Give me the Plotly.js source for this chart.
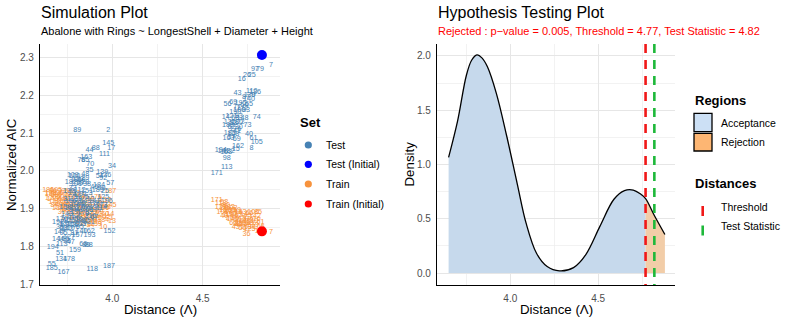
<!DOCTYPE html>
<html><head><meta charset="utf-8">
<script src="https://cdn.plot.ly/plotly-3.0.1.min.js"></script>
<style>html,body{margin:0;padding:0;background:#fff}#chart{width:793px;height:327px}</style>
</head><body><div id="chart"></div>
<script>
// ---------- Simulation plot data ----------
const testX = [
 3.806,3.978,3.978,3.994,3.874,3.909,3.957,3.856,3.829,3.850,3.878,3.998,3.874,3.850,3.782,3.944,3.961,3.989,3.926,3.930,3.950,3.940,
 3.790,3.800,3.810,3.830,3.840,3.770,3.820,3.860,3.800,3.850,3.900,3.920,3.960,
 3.76,3.78,3.80,3.82,3.84,3.86,3.88,3.90,3.92,3.94,3.96,3.75,3.77,3.79,3.81,3.83,3.85,3.87,3.89,3.91,3.93,3.74,3.76,3.78,3.80,3.82,3.84,3.86,3.88,3.90,3.75,3.77,3.79,3.81,3.83,3.85,3.87,3.79,3.83,3.87,3.80,3.84,3.82,3.86,3.78,3.88,3.95,3.97,
 3.70,3.72,3.74,3.76,3.78,3.71,3.73,3.75,3.77,3.72,3.74,3.76,3.80,3.82,3.71,3.73,
 3.985,3.670,3.711,3.717,3.761,3.794,3.665,3.665,3.730,3.889,3.982,3.807,3.874,3.856,3.870,3.840,3.822,3.750,3.770,3.730,3.760,3.790,3.720,3.700,3.870,3.830,
 4.807,4.878,4.818,4.789,4.745,4.772,4.717,4.693,4.772,4.790,4.637,4.670,4.757,4.757,4.702,4.690,4.680,4.800,4.628,4.748,4.643,4.689,4.757,4.781,4.800,4.696,4.683,4.770,4.600,4.615,4.630,4.645,4.633,4.633,4.578,4.760,4.740,4.780,
 4.66,4.68,4.70,4.72,4.65,4.67,4.69,4.71,4.66,4.68,4.70,4.65,4.67,4.69,4.72,4.74,4.73,4.71,4.66,4.64
];
const testY = [
 2.107,2.107,2.073,2.060,2.054,2.061,2.043,2.037,2.029,2.029,2.018,2.012,2.003,1.992,1.989,1.997,1.989,1.968,1.963,1.985,1.980,1.955,
 1.985,1.975,1.978,1.975,1.970,1.970,1.968,1.965,1.965,1.980,1.958,1.948,1.945,
 1.945,1.940,1.935,1.930,1.938,1.930,1.925,1.920,1.915,1.910,1.905,1.925,1.920,1.915,1.910,1.915,1.905,1.910,1.900,1.895,1.900,1.905,1.900,1.895,1.890,1.895,1.888,1.885,1.880,1.878,1.885,1.880,1.875,1.872,1.870,1.868,1.865,1.905,1.900,1.895,1.925,1.920,1.950,1.945,1.955,1.940,1.930,1.920,
 1.865,1.860,1.858,1.855,1.860,1.852,1.848,1.845,1.848,1.872,1.870,1.868,1.855,1.850,1.838,1.835,
 1.841,1.797,1.781,1.767,1.766,1.791,1.754,1.743,1.731,1.741,1.748,1.829,1.831,1.804,1.804,1.806,1.860,1.815,1.810,1.820,1.825,1.835,1.805,1.820,1.840,1.840,
 2.303,2.281,2.270,2.268,2.253,2.253,2.244,2.206,2.211,2.208,2.176,2.182,2.189,2.176,2.162,2.168,2.155,2.142,2.142,2.120,2.086,2.083,2.096,2.087,2.075,2.066,2.057,2.061,2.054,2.052,2.050,2.053,2.033,2.009,1.994,2.200,2.195,2.200,
 2.145,2.140,2.145,2.140,2.130,2.125,2.130,2.128,2.115,2.110,2.115,2.100,2.098,2.105,2.165,2.160,2.175,2.180,2.090,2.120
];
const testLabel = [
 '89','2','145','17','44','88','111','163','78','65','70','34','35','48','109','139','136','57','184','54','92','99',
 '100','181','123','60','128','182','19','38','101','29','46','189','25',
 '133','23','42','117','91','6','12','141','80','173','4','31','166','75','149','86','52','120','63','177','11','158','27','94','132','49','175','9','116','67','143','21','105','58','191','82','131','13','170','96','138','64','112','151','33','3','125','196',
 '192','5','122','84','156','39','68','142','10','176','71','126','32','65','147','95',
 '152','194','51','134','178','159','55','185','167','118','187','157','193','89','88','66','155','36','47','165','127','81','113','144','162','140',
 '1','7','79','97','26','25','16','43','110','136','56','69','140','65','100','77','190','74','14','73','163','59','40','61','105','162','15','8','194','141','153','182','98','113','171','130','87','9',
 '121','68','93','148','135','53','180','22','62','176','30','183','108','41','172','83','50','195','37','188'
];
const trainX = [
 3.645,3.670,3.690,3.660,3.680,3.700,3.720,3.740,3.650,3.670,3.690,3.710,3.730,3.750,3.680,3.700,3.720,3.740,3.760,3.780,
 3.710,3.730,3.750,3.770,3.790,3.810,3.740,3.760,3.780,3.800,3.820,3.840,3.770,3.790,3.810,3.830,3.850,3.870,
 3.800,3.820,3.840,3.860,3.880,3.900,3.830,3.850,3.870,3.890,3.910,3.930,3.860,3.880,3.900,3.920,3.940,3.960,
 3.920,3.950,3.970,3.989,3.998,3.995,3.950,3.970,3.990,3.978,3.989,3.940,3.920,3.960,3.930,3.900,3.860,3.830,3.800,3.770,
 3.760,3.790,3.820,3.850,3.880,3.910,3.710,3.660,3.750,3.790,3.820,3.750,3.720,3.700,3.680,3.850,3.880,3.910,3.950,
 4.578,4.600,4.620,4.600,4.615,4.630,4.645,4.660,4.625,4.640,4.655,4.670,4.685,4.700,4.650,4.665,4.680,4.695,4.710,4.725,
 4.700,4.715,4.730,4.745,4.760,4.775,4.683,4.743,4.807,4.759,4.780,4.790,4.800,4.770,4.790,4.810,4.760,4.800,4.878,4.720,
 4.740,4.640,4.620,4.690,4.710,4.730,4.750,4.670,4.690,4.730,4.760,4.820,4.650,4.610
];
const trainY = [
 1.948,1.946,1.950,1.938,1.935,1.940,1.945,1.940,1.928,1.925,1.930,1.928,1.932,1.928,1.918,1.915,1.920,1.917,1.920,1.925,
 1.905,1.908,1.905,1.910,1.912,1.915,1.895,1.898,1.900,1.902,1.905,1.910,1.888,1.890,1.892,1.895,1.900,1.905,
 1.880,1.882,1.885,1.888,1.892,1.895,1.872,1.875,1.878,1.880,1.885,1.890,1.866,1.870,1.872,1.876,1.880,1.885,
 1.865,1.870,1.878,1.886,1.868,1.876,1.900,1.905,1.910,1.921,1.945,1.912,1.905,1.922,1.925,1.915,1.920,1.925,1.930,1.935,
 1.945,1.940,1.935,1.930,1.925,1.930,1.935,1.942,1.910,1.870,1.862,1.875,1.890,1.900,1.910,1.860,1.855,1.858,1.850,
 1.923,1.915,1.918,1.905,1.900,1.910,1.905,1.900,1.895,1.890,1.885,1.893,1.888,1.882,1.875,1.872,1.875,1.870,1.873,1.868,
 1.860,1.858,1.862,1.865,1.862,1.866,1.851,1.833,1.890,1.888,1.890,1.880,1.872,1.850,1.855,1.850,1.845,1.840,1.838,1.848,
 1.852,1.882,1.880,1.895,1.890,1.885,1.878,1.862,1.858,1.875,1.872,1.865,1.895,1.890
];
const trainLabel = [
 '186','96','195','194','58','120','33','175','17','149','66','4','110','87','143','27','162','55','103','9',
 '191','46','132','76','19','154','28','168','61','115','3','139','44','178','95','22','126','73',
 '150','37','189','11','158','64','101','38','123','8','172','49','114','190','81','25','141','70',
 '93','184','52','14','13','1','166','88','145','12','187','31','104','157','2','118','181','72','15','137',
 '59','107','161','41','99','176','6','128','94','155','45','174','35','130','84','116','34','159','10',
 '171','112','53','139','26','80','182','102','167','47','196','24','134','62','20','146','90','7','113','57',
 '85','136','169','43','18','140','43','36','85','66','106','142','16','97','79','105','125','1','7','56',
 '153','110','40','59','183','14','73','65','98','8','74','61','163','100'
];
const initTestX = [4.828], initTestY = [2.307];
const initTrainX = [4.828], initTrainY = [1.840];
const simXTicks = [4.0, 4.5], simXTickText = ['4.0', '4.5'];
const simYTicks = [1.7, 1.8, 1.9, 2.0, 2.1, 2.2, 2.3];
const simYTickText = ['1.7', '1.8', '1.9', '2.0', '2.1', '2.2', '2.3'];

// ---------- Hypothesis testing data ----------
const densityX = [3.649,3.70,3.75,3.78,3.81,3.84,3.87,3.92,3.98,4.04,4.09,4.15,4.21,4.28,4.36,4.43,4.51,4.59,4.65,4.70,4.74,4.77,4.82,4.88];
const densityY = [1.066,1.40,1.82,1.96,2.01,1.98,1.90,1.66,1.26,0.82,0.46,0.18,0.06,0.02,0.05,0.17,0.43,0.68,0.76,0.765,0.73,0.685,0.53,0.355];
const pValue = 0.005, threshold = 4.77, testStatistic = 4.82;
const hypXTicks = [4.0, 4.5], hypXTickText = ['4.0', '4.5'];
const hypYTicks = [0, 0.5, 1.0, 1.5, 2.0], hypYTickText = ['0.0', '0.5', '1.0', '1.5', '2.0'];
const setNames = ['Test', 'Test (Initial)', 'Train', 'Train (Initial)'];
const regionNames = ['Acceptance', 'Rejection'];
const distanceNames = ['Threshold', 'Test Statistic'];

// ---------- styling ----------
const W = 793, H = 327;
const px = v => v / W;
const py = v => 1 - v / H;
const FONT = 'Liberation Sans, Arial, sans-serif';
const C_TEST = '#4682B4', C_TRAIN = '#F7933D', C_TEST0 = '#0000FF', C_TRAIN0 = '#FF0000';
const C_ACC = '#C6D9EC', C_REJ = '#F2CDA8', C_ACC_KEY = '#CCE0F5', C_REJ_KEY = '#FDB673';
const C_THR = '#F01818', C_TS = '#1EB83A';

const accX = [], accY = [], rejX = [], rejY = [];
densityX.forEach((x, i) => {
  if (x <= threshold) { accX.push(x); accY.push(densityY[i]); }
  if (x >= threshold) { rejX.push(x); rejY.push(densityY[i]); }
});

const labelFont = c => ({family: FONT, size: 7.2, color: c});
const traces = [
  {type:'scatter', mode:'text', x:trainX, y:trainY, text:trainLabel, textfont:labelFont(C_TRAIN), xaxis:'x', yaxis:'y', hoverinfo:'skip', cliponaxis:false},
  {type:'scatter', mode:'text', x:testX, y:testY, text:testLabel, textfont:labelFont(C_TEST), xaxis:'x', yaxis:'y', hoverinfo:'skip', cliponaxis:false},
  {type:'scatter', mode:'markers', x:initTestX, y:initTestY, marker:{color:C_TEST0, size:10}, xaxis:'x', yaxis:'y', cliponaxis:false},
  {type:'scatter', mode:'markers', x:initTrainX, y:initTrainY, marker:{color:C_TRAIN0, size:10}, xaxis:'x', yaxis:'y', cliponaxis:false},
  {type:'scatter', mode:'lines', x:accX, y:accY, fill:'tozeroy', fillcolor:C_ACC, line:{width:0, shape:'spline', smoothing:1}, xaxis:'x2', yaxis:'y2', hoverinfo:'skip'},
  {type:'scatter', mode:'lines', x:rejX, y:rejY, fill:'tozeroy', fillcolor:C_REJ, line:{width:0, shape:'spline', smoothing:1}, xaxis:'x2', yaxis:'y2', hoverinfo:'skip'},
  {type:'scatter', mode:'lines', x:densityX, y:densityY, line:{color:'#000', width:1.3, shape:'spline', smoothing:1}, xaxis:'x2', yaxis:'y2', hoverinfo:'skip'}
];

const gridCommon = {
  showline:true, linecolor:'#000', linewidth:1.1, mirror:false,
  showgrid:true, gridcolor:'#E6E6E6', gridwidth:1, zeroline:false, ticks:'',
  tickfont:{family:FONT, size:10, color:'#4D4D4D'}, automargin:false, fixedrange:true
};
const minorGrid = vals => ({tickvals:vals, showgrid:true, gridcolor:'#ECECEC', gridwidth:0.7, ticks:''});

const layout = {
  width:W, height:H, margin:{l:0, r:0, t:0, b:0}, paper_bgcolor:'#fff', plot_bgcolor:'#fff',
  showlegend:false, font:{family:FONT, color:'#000'},
  xaxis: Object.assign({}, gridCommon, {domain:[px(40), px(280)], range:[3.6, 4.928], tickmode:'array', tickvals:simXTicks, ticktext:simXTickText, minor:minorGrid([3.75, 4.25, 4.75]), anchor:'y', ticklabelstandoff:4}),
  yaxis: Object.assign({}, gridCommon, {domain:[py(285), py(44)], range:[1.698, 2.336], tickmode:'array', tickvals:simYTicks, ticktext:simYTickText, minor:minorGrid([1.75, 1.85, 1.95, 2.05, 2.15, 2.25]), anchor:'x', ticklabelstandoff:3}),
  xaxis2: Object.assign({}, gridCommon, {domain:[px(437), px(675)], range:[3.583, 4.9375], tickmode:'array', tickvals:hypXTicks, ticktext:hypXTickText, minor:minorGrid([3.75, 4.25, 4.75]), anchor:'y2', ticklabelstandoff:4}),
  yaxis2: Object.assign({}, gridCommon, {domain:[py(285), py(44)], range:[-0.11, 2.11], tickmode:'array', tickvals:hypYTicks, ticktext:hypYTickText, minor:minorGrid([0.25, 0.75, 1.25, 1.75]), anchor:'x2', ticklabelstandoff:3}),
  shapes: [],
  annotations: []
};

const ann = (text, x, y, opts) => Object.assign({text, x:px(x), y:py(y), xref:'paper', yref:'paper', showarrow:false, xanchor:'left', yanchor:'middle', borderpad:0, font:{family:FONT, size:11, color:'#000'}}, opts || {});

// titles
layout.annotations.push(ann('Simulation Plot', 40, 12.5, {font:{family:FONT, size:16, color:'#000'}}));
layout.annotations.push(ann('Abalone with Rings ~ LongestShell + Diameter + Height', 40, 31.5, {font:{family:FONT, size:11, color:'#000'}}));
layout.annotations.push(ann('Hypothesis Testing Plot', 437, 12.5, {font:{family:FONT, size:16, color:'#000'}}));
layout.annotations.push(ann('Rejected : p\u2212value = ' + pValue + ', Threshold = ' + threshold + ', Test Statistic = ' + testStatistic, 437, 31.5, {font:{family:FONT, size:11, color:'#FF0000'}}));
// axis titles
layout.annotations.push(ann('Distance (\u039B)', 160, 309.5, {xanchor:'center', font:{family:FONT, size:13.3, color:'#000'}}));
layout.annotations.push(ann('Distance (\u039B)', 556, 309.5, {xanchor:'center', font:{family:FONT, size:13.3, color:'#000'}}));
layout.annotations.push(ann('Normalized AIC', 11.5, 164.5, {xanchor:'center', textangle:-90, font:{family:FONT, size:13.3, color:'#000'}}));
layout.annotations.push(ann('Density', 409, 164.5, {xanchor:'center', textangle:-90, font:{family:FONT, size:13.3, color:'#000'}}));

// threshold / test statistic lines
layout.shapes.push({type:'line', xref:'x2', yref:'y2 domain', x0:threshold, x1:threshold, y0:1, y1:0, line:{color:C_THR, width:2.6, dash:'9px,7px'}});
layout.shapes.push({type:'line', xref:'x2', yref:'y2 domain', x0:testStatistic, x1:testStatistic, y0:1, y1:0, line:{color:C_TS, width:2.6, dash:'9px,7px'}});

// legend: Set
layout.annotations.push(ann('<b>Set</b>', 299, 122.6, {font:{family:FONT, size:13, color:'#000'}}));
const setColors = [C_TEST, C_TEST0, C_TRAIN, C_TRAIN0];
const setRows = [145, 164.3, 184, 204];
setNames.forEach((n, i) => {
  layout.shapes.push({type:'circle', xref:'paper', yref:'paper', xsizemode:'pixel', ysizemode:'pixel', xanchor:px(308.3), yanchor:py(setRows[i]), x0:-3.6, x1:3.6, y0:-3.6, y1:3.6, fillcolor:setColors[i], line:{width:0}});
  layout.annotations.push(ann(n, 324.5, setRows[i], {font:{family:FONT, size:10.5, color:'#000'}}));
});
// legend: Regions
layout.annotations.push(ann('<b>Regions</b>', 694, 100, {font:{family:FONT, size:13, color:'#000'}}));
const regColors = [C_ACC_KEY, C_REJ_KEY];
const regBoxes = [[113.3, 131.7], [133.3, 151]];
regionNames.forEach((n, i) => {
  layout.shapes.push({type:'rect', xref:'paper', yref:'paper', x0:px(694), x1:px(712), y0:py(regBoxes[i][1]), y1:py(regBoxes[i][0]), fillcolor:regColors[i], line:{color:'#000', width:1.3}});
  layout.annotations.push(ann(n, 720, (regBoxes[i][0] + regBoxes[i][1]) / 2, {font:{family:FONT, size:10.5, color:'#000'}}));
});
// legend: Distances
layout.annotations.push(ann('<b>Distances</b>', 694, 183.5, {font:{family:FONT, size:13, color:'#000'}}));
const distColors = [C_THR, C_TS];
const distRows = [206.5, 226];
distanceNames.forEach((n, i) => {
  layout.shapes.push({type:'line', xref:'paper', yref:'paper', x0:px(702.7), x1:px(702.7), y0:py(distRows[i] + 9.5), y1:py(distRows[i] - 0.5), line:{color:distColors[i], width:2.6}});
  layout.annotations.push(ann(n, 720, distRows[i], {font:{family:FONT, size:10.5, color:'#000'}}));
});

Plotly.newPlot('chart', traces, layout, {staticPlot:true, displayModeBar:false});
</script>
</body></html>
